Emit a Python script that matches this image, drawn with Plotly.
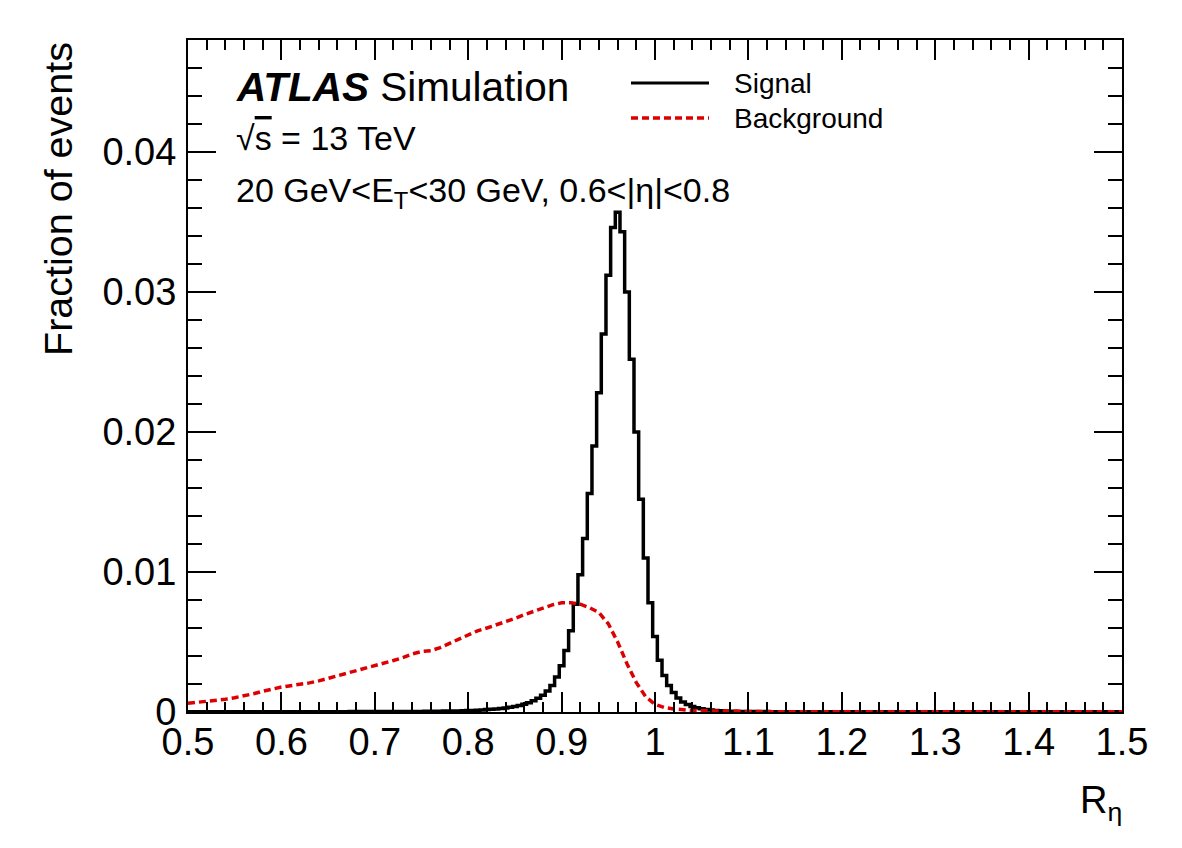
import plotly.graph_objects as go

# ---------------- data ----------------
# Signal histogram: bin width 0.005, bin centres 0.500 ... 1.500
sig_first_center = 0.5
sig_bin_width = 0.005
signal = [
    0.00001, 0.00001, 0.00001, 0.00001, 0.00001, 0.00001, 0.00001, 0.00001, 0.00001, 0.00001,  # 0.500-0.545
    0.00001, 0.00001, 0.00001, 0.00001, 0.00001, 0.00001, 0.00002, 0.00002, 0.00002, 0.00002,  # 0.550-0.595
    0.00002, 0.00002, 0.00002, 0.00002, 0.00002, 0.00002, 0.00002, 0.00002, 0.00002, 0.00002,  # 0.600-0.645
    0.00002, 0.00002, 0.00002, 0.00002, 0.00002, 0.00003, 0.00003, 0.00003, 0.00003, 0.00003,  # 0.650-0.695
    0.00003, 0.00003, 0.00003, 0.00003, 0.00003, 0.00003, 0.00004, 0.00004, 0.00004, 0.00004,  # 0.700-0.745
    0.00004, 0.00005, 0.00005, 0.00006, 0.00006, 0.00007, 0.00007, 0.00008, 0.00008, 0.00009,  # 0.750-0.795
    0.00010, 0.00011, 0.00013, 0.00015, 0.00017, 0.00019, 0.00022, 0.00025, 0.00029, 0.00034,  # 0.800-0.845
    0.00040, 0.00047, 0.00055, 0.00066, 0.00080, 0.00098, 0.00120, 0.00150, 0.00190, 0.00250,  # 0.850-0.895
    0.00330, 0.00440, 0.00580, 0.00770, 0.00980, 0.01240, 0.01560, 0.01900, 0.02280, 0.02700,  # 0.900-0.945
    0.03120, 0.03460, 0.03570, 0.03430, 0.03000, 0.02520, 0.02000, 0.01520, 0.01100, 0.00780,  # 0.950-0.995
    0.00540, 0.00370, 0.00260, 0.00190, 0.00140, 0.00100, 0.00072, 0.00053, 0.00040, 0.00030,  # 1.000-1.045
    0.00023, 0.00018, 0.00014, 0.00011, 0.00009, 0.00007, 0.00006, 0.00005, 0.00004, 0.00004,  # 1.050-1.095
    0.00003, 0.00003, 0.00003, 0.00003, 0.00003, 0.00002, 0.00002, 0.00002, 0.00002, 0.00002,  # 1.100-1.145
    0.00002, 0.00002, 0.00002, 0.00002, 0.00002, 0.00002, 0.00002, 0.00002, 0.00002, 0.00002,  # 1.150-1.195
    0.00002, 0.00002, 0.00001, 0.00001, 0.00001, 0.00001, 0.00001, 0.00001, 0.00001, 0.00001,  # 1.200-1.245
    0.00001, 0.00001, 0.00001, 0.00001, 0.00001, 0.00001, 0.00001, 0.00001, 0.00001, 0.00001,  # 1.250-1.295
    0.00001, 0.00001, 0.00001, 0.00001, 0.00001, 0.00001, 0.00001, 0.00001, 0.00001, 0.00001,  # 1.300-1.345
    0.00001, 0.00001, 0.00001, 0.00001, 0.00001, 0.00001, 0.00001, 0.00001, 0.00001, 0.00001,  # 1.350-1.395
    0.00001, 0.00001, 0.00001, 0.00001, 0.00001, 0.00001, 0.00001, 0.00001, 0.00001, 0.00001,  # 1.400-1.445
    0.00001, 0.00001, 0.00001, 0.00001, 0.00001, 0.00001, 0.00001, 0.00001, 0.00001, 0.00001,  # 1.450-1.495
    0.00001,                                                                                     # 1.500
]

# Background histogram: bin width 0.01, bin centres 0.50 ... 1.50
bkg_first_center = 0.5
bkg_bin_width = 0.01
background = [
    0.00062, 0.00068, 0.00075, 0.00082, 0.00091, 0.00102, 0.00114, 0.00130, 0.00148, 0.00165,  # 0.50-0.59
    0.00178, 0.00188, 0.00197, 0.00208, 0.00222, 0.00240, 0.00256, 0.00272, 0.00290, 0.00310,  # 0.60-0.69
    0.00330, 0.00350, 0.00368, 0.00388, 0.00415, 0.00432, 0.00438, 0.00460, 0.00490, 0.00525,  # 0.70-0.79
    0.00555, 0.00580, 0.00600, 0.00622, 0.00645, 0.00668, 0.00695, 0.00720, 0.00745, 0.00765,  # 0.80-0.89
    0.00780, 0.00780, 0.00770, 0.00745, 0.00710, 0.00630, 0.00500, 0.00345, 0.00210, 0.00110,  # 0.90-0.99
    0.00055, 0.00032, 0.00022, 0.00015, 0.00011, 0.00009, 0.00007, 0.00005, 0.00004, 0.00003,  # 1.00-1.09
    0.00003, 0.00003, 0.00002, 0.00002, 0.00002, 0.00002, 0.00002, 0.00002, 0.00002, 0.00002,  # 1.10-1.19
    0.00002, 0.00002, 0.00002, 0.00002, 0.00002, 0.00001, 0.00001, 0.00001, 0.00001, 0.00001,  # 1.20-1.29
    0.00001, 0.00001, 0.00001, 0.00001, 0.00001, 0.00001, 0.00001, 0.00001, 0.00001, 0.00001,  # 1.30-1.39
    0.00001, 0.00001, 0.00001, 0.00001, 0.00001, 0.00001, 0.00001, 0.00001, 0.00001, 0.00001,  # 1.40-1.49
    0.00001,                                                                                     # 1.50
]

series_names = ["Signal", "Background"]
x_title = "R<sub>η</sub>"
y_title = "Fraction of events"
atlas_label = "<b><i>ATLAS</i></b> Simulation"
energy_label = "√<span style='text-decoration:overline'>s</span> = 13 TeV"
region_label = "20 GeV&lt;E<sub>T</sub>&lt;30 GeV, 0.6&lt;|η|&lt;0.8"

sig_x = [round(sig_first_center + i * sig_bin_width, 4) for i in range(len(signal))]
bkg_x = [round(bkg_first_center + i * bkg_bin_width, 4) for i in range(len(background))]

# ---------------- figure ----------------
W, H = 1182, 848
L, R, T, B = 188, 60, 40, 136
PW, PH = W - L - R, H - T - B
FONT = "Liberation Sans, Arial, Helvetica, sans-serif"
RED = "#dd0000"


def px_x(p):
    return (p - L) / PW


def px_y(p):
    return (H - B - p) / PH


fig = go.Figure()
fig.add_trace(go.Scatter(x=sig_x, y=signal, mode="lines", name=series_names[0],
                         line=dict(color="black", width=3.5, shape="hvh")))
fig.add_trace(go.Scatter(x=bkg_x, y=background, mode="lines", name=series_names[1],
                         line=dict(color=RED, width=3.5, dash="7px,4px", shape="linear")))

fig.update_layout(
    width=W, height=H,
    margin=dict(l=L, r=R, t=T, b=B, pad=0),
    paper_bgcolor="white", plot_bgcolor="white",
    showlegend=False,
    font=dict(family=FONT, color="black"),
)

fig.update_xaxes(
    range=[0.5, 1.5], tick0=0.5, dtick=0.1,
    ticks="inside", ticklen=20, tickwidth=2, tickcolor="black",
    minor=dict(dtick=0.02, ticks="inside", ticklen=10, tickwidth=2, tickcolor="black", showgrid=False),
    showline=True, linewidth=2, linecolor="black", mirror="allticks",
    showgrid=False, zeroline=False,
    tickfont=dict(size=38, family=FONT, color="black"),
    ticklabelstandoff=-5,
)
fig.update_yaxes(
    range=[0, 0.048], tick0=0, dtick=0.01,
    ticks="inside", ticklen=28, tickwidth=2, tickcolor="black",
    minor=dict(dtick=0.002, ticks="inside", ticklen=14, tickwidth=2, tickcolor="black", showgrid=False),
    showline=True, linewidth=2, linecolor="black", mirror="allticks",
    showgrid=False, zeroline=False,
    tickfont=dict(size=38, family=FONT, color="black"),
    ticklabelstandoff=2,
)

ann = []
ann.append(dict(text=y_title, x=px_x(58), y=px_y(40), xref="paper", yref="paper",
                xanchor="center", yanchor="top", textangle=-90, showarrow=False,
                font=dict(size=39.5, family=FONT, color="black")))
ann.append(dict(text=x_title, x=px_x(1124), y=px_y(803), xref="paper", yref="paper",
                xanchor="right", yanchor="middle", showarrow=False,
                font=dict(size=38, family=FONT, color="black")))
ann.append(dict(text=atlas_label, x=px_x(234), y=px_y(87), xref="paper", yref="paper",
                xanchor="left", yanchor="middle", showarrow=False,
                font=dict(size=40.5, family=FONT, color="black")))
ann.append(dict(text=energy_label, x=px_x(234), y=px_y(138), xref="paper", yref="paper",
                xanchor="left", yanchor="middle", showarrow=False,
                font=dict(size=34, family=FONT, color="black")))
ann.append(dict(text=region_label, x=px_x(234), y=px_y(193), xref="paper", yref="paper",
                xanchor="left", yanchor="middle", showarrow=False,
                font=dict(size=34, family=FONT, color="black")))

legend_y = [83, 118]
legend_colors = ["black", RED]
legend_dash = ["solid", "7px,4px"]
shapes = []
for name, yy, col, dsh in zip(series_names, legend_y, legend_colors, legend_dash):
    shapes.append(dict(type="line", xref="paper", yref="paper",
                       x0=px_x(631), x1=px_x(709), y0=px_y(yy), y1=px_y(yy),
                       line=dict(color=col, width=3 if col == "black" else 3.5, dash=dsh)))
    ann.append(dict(text=name, x=px_x(732), y=px_y(yy), xref="paper", yref="paper",
                    xanchor="left", yanchor="middle", showarrow=False,
                    font=dict(size=28, family=FONT, color="black")))

fig.update_layout(annotations=ann, shapes=shapes)

fig.write_html("out.html")
